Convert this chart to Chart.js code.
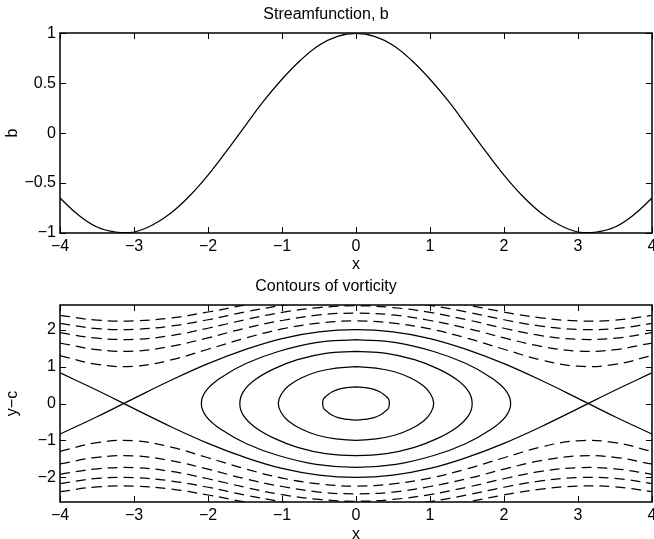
<!DOCTYPE html>
<html>
<head>
<meta charset="utf-8">
<script src="https://cdn.jsdelivr.net/npm/chart.js@4.4.1/dist/chart.umd.min.js"></script>
<style>
  html, body { margin: 0; padding: 0; background: #fff; overflow: hidden; }
  #wrap { position: relative; width: 654px; height: 539px; }
  canvas { position: absolute; left: 0; }
  #graf1 { top: 0; }
  #graf2 { top: 259px; }
</style>
</head>
<body>
<div id="wrap">
  <canvas id="graf1" width="654" height="280"></canvas>
  <canvas id="graf2" width="654" height="280"></canvas>
</div>
<script>
// --- data ---
// top panel: streamfunction b against x
const xTop = [-4, -3.75, -3.5, -3.25, -3, -2.75, -2.5, -2.25, -2, -1.75, -1.5, -1.25, -1, -0.75, -0.5, -0.25,
  0, 0.25, 0.5, 0.75, 1, 1.25, 1.5, 1.75, 2, 2.25, 2.5, 2.75, 3, 3.25, 3.5, 3.75, 4];
const bTop = [-0.65, -0.82, -0.94, -0.99, -0.99, -0.92, -0.80, -0.63, -0.42, -0.18, 0.07, 0.32, 0.54, 0.73, 0.88, 0.97,
  1.00, 0.97, 0.88, 0.73, 0.54, 0.32, 0.07, -0.18, -0.42, -0.63, -0.80, -0.92, -0.99, -0.99, -0.94, -0.82, -0.65];

// bottom panel: open contours sampled along x
const xGrid = [-4, -3.5, -3, -2.5, -2, -1.5, -1, -0.5, 0, 0.5, 1, 1.5, 2, 2.5, 3, 3.5, 4];
// separatrix (two solid branches crossing near x = ±3.14)
const sepUp = [-0.83, -0.36, 0.14, 0.63, 1.08, 1.46, 1.76, 1.94, 2.00, 1.94, 1.76, 1.46, 1.08, 0.63, 0.14, -0.36, -0.83];
const sepDn = [0.83, 0.36, -0.14, -0.63, -1.08, -1.46, -1.76, -1.94, -2.00, -1.94, -1.76, -1.46, -1.08, -0.63, -0.14, 0.36, 0.83];
// dashed contours above the cat's eye
const dashUp1 = [1.30, 1.06, 1.01, 1.18, 1.47, 1.77, 2.02, 2.18, 2.24, 2.18, 2.02, 1.77, 1.47, 1.18, 1.01, 1.06, 1.30];
const dashUp2 = [1.64, 1.46, 1.42, 1.55, 1.78, 2.04, 2.25, 2.40, 2.45, 2.40, 2.25, 2.04, 1.78, 1.55, 1.42, 1.46, 1.64];
const dashUp3 = [1.92, 1.77, 1.74, 1.84, 2.04, 2.27, 2.47, 2.60, 2.65, 2.60, 2.47, 2.27, 2.04, 1.84, 1.74, 1.77, 1.92];
const dashUp4 = [2.17, 2.03, 2.01, 2.10, 2.27, 2.48, 2.66, 2.79, 2.83, 2.79, 2.66, 2.48, 2.27, 2.10, 2.01, 2.03, 2.17];
const dashUp5 = [2.39, 2.26, 2.24, 2.32, 2.48, 2.67, 2.84, 2.96, 3.00, 2.96, 2.84, 2.67, 2.48, 2.32, 2.24, 2.26, 2.39];
// dashed contours below
const dashDn1 = [-1.30, -1.06, -1.01, -1.18, -1.47, -1.77, -2.02, -2.18, -2.24, -2.18, -2.02, -1.77, -1.47, -1.18, -1.01, -1.06, -1.30];
const dashDn2 = [-1.64, -1.46, -1.42, -1.55, -1.78, -2.04, -2.25, -2.40, -2.45, -2.40, -2.25, -2.04, -1.78, -1.55, -1.42, -1.46, -1.64];
const dashDn3 = [-1.92, -1.77, -1.74, -1.84, -2.04, -2.27, -2.47, -2.60, -2.65, -2.60, -2.47, -2.27, -2.04, -1.84, -1.74, -1.77, -1.92];
const dashDn4 = [-2.17, -2.03, -2.01, -2.10, -2.27, -2.48, -2.66, -2.79, -2.83, -2.79, -2.66, -2.48, -2.27, -2.10, -2.01, -2.03, -2.17];
const dashDn5 = [-2.39, -2.26, -2.24, -2.32, -2.48, -2.67, -2.84, -2.96, -3.00, -2.96, -2.84, -2.67, -2.48, -2.32, -2.24, -2.26, -2.39];

// closed contours inside the eye, [x, y] going round from the top point
const loop1 = [[0, 0.45], [-0.12, 0.43], [-0.23, 0.39], [-0.32, 0.32], [-0.39, 0.22], [-0.44, 0.12], [-0.45, 0],
  [-0.44, -0.12], [-0.39, -0.22], [-0.32, -0.32], [-0.23, -0.39], [-0.12, -0.43], [0, -0.45],
  [0.12, -0.43], [0.23, -0.39], [0.32, -0.32], [0.39, -0.22], [0.44, -0.12], [0.45, 0],
  [0.44, 0.12], [0.39, 0.22], [0.32, 0.32], [0.23, 0.39], [0.12, 0.43], [0, 0.45]];
const loop2 = [[0, 1.00], [-0.27, 0.96], [-0.52, 0.86], [-0.74, 0.69], [-0.91, 0.48], [-1.01, 0.25], [-1.05, 0],
  [-1.01, -0.25], [-0.91, -0.48], [-0.74, -0.69], [-0.52, -0.86], [-0.27, -0.96], [0, -1.00],
  [0.27, -0.96], [0.52, -0.86], [0.74, -0.69], [0.91, -0.48], [1.01, -0.25], [1.05, 0],
  [1.01, 0.25], [0.91, 0.48], [0.74, 0.69], [0.52, 0.86], [0.27, 0.96], [0, 1.00]];
const loop3 = [[0, 1.41], [-0.41, 1.36], [-0.79, 1.19], [-1.11, 0.94], [-1.36, 0.65], [-1.52, 0.33], [-1.57, 0],
  [-1.52, -0.33], [-1.36, -0.65], [-1.11, -0.94], [-0.79, -1.19], [-0.41, -1.36], [0, -1.41],
  [0.41, -1.36], [0.79, -1.19], [1.11, -0.94], [1.36, -0.65], [1.52, -0.33], [1.57, 0],
  [1.52, 0.33], [1.36, 0.65], [1.11, 0.94], [0.79, 1.19], [0.41, 1.36], [0, 1.41]];
const loop4 = [[0, 1.73], [-0.54, 1.65], [-1.05, 1.41], [-1.48, 1.09], [-1.81, 0.72], [-2.02, 0.36], [-2.09, 0],
  [-2.02, -0.36], [-1.81, -0.72], [-1.48, -1.09], [-1.05, -1.41], [-0.54, -1.65], [0, -1.73],
  [0.54, -1.65], [1.05, -1.41], [1.48, -1.09], [1.81, -0.72], [2.02, -0.36], [2.09, 0],
  [2.02, 0.36], [1.81, 0.72], [1.48, 1.09], [1.05, 1.41], [0.54, 1.65], [0, 1.73]];

// tick labels
const xTicks = [-4, -3, -2, -1, 0, 1, 2, 3, 4];
const bTicks = [-1, -0.5, 0, 0.5, 1];
const ycTicks = [-2, -1, 0, 1, 2];

Chart.defaults.font.family = "'Liberation Sans', Arial, Helvetica, sans-serif";
Chart.defaults.font.size = 16;
Chart.defaults.color = '#000';
Chart.defaults.animation = false;

const minus = v => String(v).replace('-', '\u2212');

// matlab-like box with inward ticks on all four sides
const ramecek = {
  id: 'ramecek',
  afterDatasetsDraw(chart) {
    const { ctx, chartArea: a, scales } = chart;
    const l = Math.round(a.left), r = Math.round(a.right), t = Math.round(a.top), b = Math.round(a.bottom);
    ctx.save();
    ctx.strokeStyle = '#000';
    ctx.lineWidth = 1.5;
    ctx.strokeRect(l, t, r - l, b - t);
    ctx.lineWidth = 1;
    ctx.beginPath();
    scales.x.ticks.forEach(tk => {
      const px = Math.round(scales.x.getPixelForValue(tk.value)) + 0.5;
      ctx.moveTo(px, b); ctx.lineTo(px, b - 6);
      ctx.moveTo(px, t); ctx.lineTo(px, t + 6);
    });
    scales.y.ticks.forEach(tk => {
      const py = Math.round(scales.y.getPixelForValue(tk.value)) + 0.5;
      ctx.moveTo(l, py); ctx.lineTo(l + 6, py);
      ctx.moveTo(r, py); ctx.lineTo(r - 6, py);
    });
    ctx.stroke();
    ctx.restore();
  }
};

function osaX(vyska, titulPad) {
  return {
    type: 'linear', min: -4, max: 4,
    afterBuildTicks: s => { s.ticks = xTicks.map(v => ({ value: v })); },
    ticks: { padding: 4, maxRotation: 0, autoSkip: false, callback: minus },
    grid: { display: false, drawTicks: false },
    border: { display: false },
    title: { display: true, text: 'x', padding: { top: 0, bottom: titulPad } },
    afterFit: s => { s.height = vyska; s.paddingLeft = 0; s.paddingRight = 0; }
  };
}

function osaY(min, max, hodnoty, text) {
  return {
    type: 'linear', min: min, max: max,
    afterBuildTicks: s => { s.ticks = hodnoty.map(v => ({ value: v })); },
    ticks: { padding: 4, autoSkip: false, callback: minus },
    grid: { display: false, drawTicks: false },
    border: { display: false },
    title: { display: true, text: text, padding: { top: 3.4, bottom: 0 } },
    afterFit: s => { s.width = 60; s.paddingTop = 0; s.paddingBottom = 0; }
  };
}

function krivka(xs, ys, carkovane) {
  return {
    data: xs.map((x, i) => ({ x: x, y: ys[i] })),
    showLine: true, pointRadius: 0, borderColor: '#000', borderWidth: 1.25,
    tension: 0.4, fill: false, borderDash: carkovane ? [10, 6] : []
  };
}

function smycka(body) {
  return {
    data: body.map(p => ({ x: p[0], y: p[1] })),
    showLine: true, pointRadius: 0, borderColor: '#000', borderWidth: 1.25,
    tension: 0.4, fill: false
  };
}

const spolecne = {
  responsive: false,
  layout: { padding: { left: 0, right: 2, top: 0, bottom: 0 } },
  plugins: { legend: { display: false }, tooltip: { enabled: false } }
};

new Chart(document.getElementById('graf1'), {
  type: 'scatter',
  data: { datasets: [krivka(xTop, bTop, false)] },
  options: Object.assign({}, spolecne, {
    plugins: Object.assign({}, spolecne.plugins, {
      title: { display: true, text: 'Streamfunction, b', font: { size: 16, weight: 'normal' }, color: '#000',
        padding: { top: 5.4, bottom: 8.7 } }
    }),
    scales: { x: osaX(47, 6.1), y: osaY(-1, 1, bTicks, 'b') }
  }),
  plugins: [ramecek]
});

new Chart(document.getElementById('graf2'), {
  type: 'scatter',
  data: {
    datasets: [
      krivka(xGrid, sepUp, false), krivka(xGrid, sepDn, false),
      smycka(loop1), smycka(loop2), smycka(loop3), smycka(loop4),
      krivka(xGrid, dashUp1, true), krivka(xGrid, dashUp2, true), krivka(xGrid, dashUp3, true),
      krivka(xGrid, dashUp4, true), krivka(xGrid, dashUp5, true),
      krivka(xGrid, dashDn1, true), krivka(xGrid, dashDn2, true), krivka(xGrid, dashDn3, true),
      krivka(xGrid, dashDn4, true), krivka(xGrid, dashDn5, true)
    ]
  },
  options: Object.assign({}, spolecne, {
    plugins: Object.assign({}, spolecne.plugins, {
      title: { display: true, text: 'Contours of vorticity', font: { size: 16, weight: 'normal' }, color: '#000',
        padding: { top: 18.4, bottom: 8.4 } }
    }),
    scales: { x: osaX(37, -5.6), y: osaY(-2.67, 2.67, ycTicks, 'y\u2212c') }
  }),
  plugins: [ramecek]
});
</script>
</body>
</html>
